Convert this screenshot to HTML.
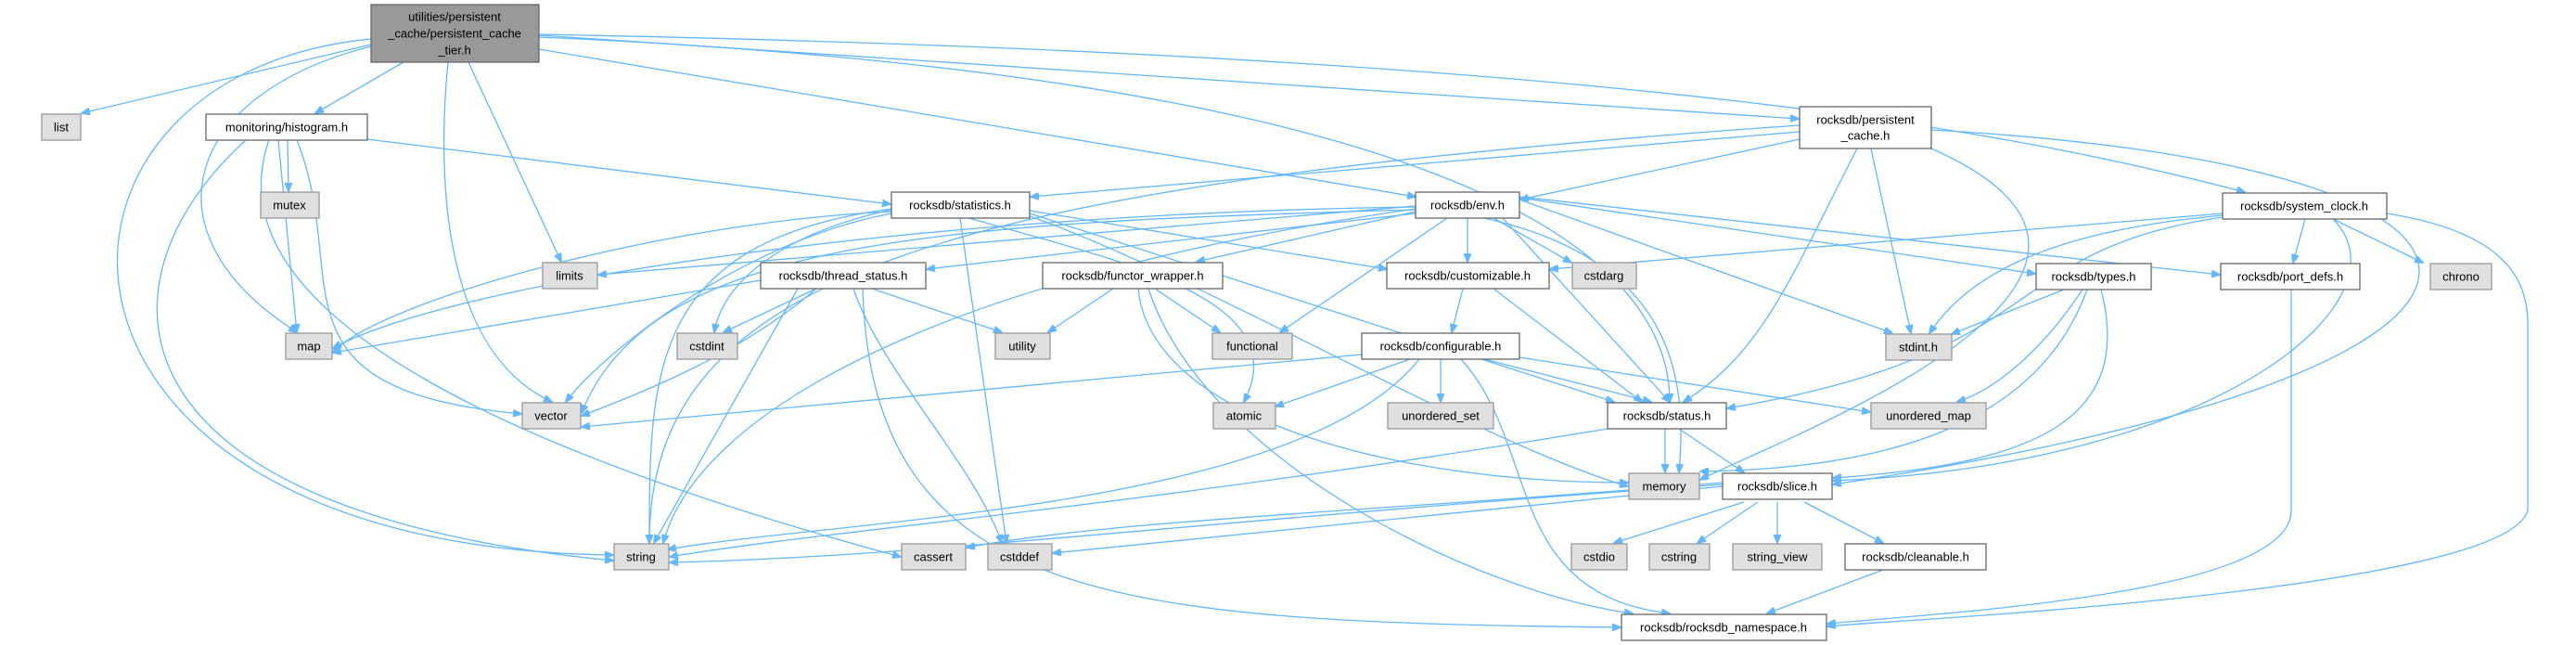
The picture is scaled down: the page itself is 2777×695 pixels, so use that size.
<!DOCTYPE html>
<html><head><meta charset="utf-8"><style>
html,body{margin:0;padding:0;background:#fff;}
svg{display:block;}
text{font-family:"Liberation Sans",sans-serif;font-size:13px;fill:#000;text-anchor:middle;dominant-baseline:central;}
.e{fill:none;stroke:#63b8ff;stroke-width:1.3;marker-end:url(#a);}
.n{fill:#fff;stroke:#666;stroke-width:1.3;}
.s{fill:#e0e0e0;stroke:#999;stroke-width:1.3;}
.m{fill:#999;stroke:#666;stroke-width:1.3;}
</style></head><body>
<svg width="2777" height="695" viewBox="0 0 2777 695" xmlns="http://www.w3.org/2000/svg">
<defs><marker id="a" markerWidth="10" markerHeight="8" refX="9" refY="4" orient="auto" markerUnits="userSpaceOnUse"><path d="M0,0 L10,4 L0,8 z" fill="#63b8ff" stroke="#63b8ff"/></marker></defs>
<g>
<!-- main -->
<path class="e" d="M400,48 L88,122"/>
<path class="e" d="M435,67 L340,122"/>
<path class="e" d="M400,50 C200,100 150,250 320,358"/>
<path class="e" d="M400,42 C0,80 0,590 661,598"/>
<path class="e" d="M483,67 C470,200 480,380 595,433"/>
<path class="e" d="M505,67 L605,282"/>
<path class="e" d="M581,53 L1526,212"/>
<path class="e" d="M581,38 L1939,128"/>
<path class="e" d="M581,40 C1500,80 1800,250 1800,433"/>
<path class="e" d="M581,37 C1800,60 2200,150 2420,207"/>
<!-- histogram -->
<path class="e" d="M310,151 L311,206"/>
<path class="e" d="M300,151 L320,358"/>
<path class="e" d="M265,151 C100,300 100,550 661,604"/>
<path class="e" d="M320,151 C380,300 280,420 562,446"/>
<path class="e" d="M290,151 C220,350 600,500 971,600"/>
<path class="e" d="M396,150 L960,220"/>
<!-- statistics -->
<path class="e" d="M1045,235 C1200,280 1400,320 1341,433"/>
<path class="e" d="M1035,235 L1085,585"/>
<path class="e" d="M961,226 C850,250 780,300 770,358"/>
<path class="e" d="M961,228 C700,240 400,330 359,380"/>
<path class="e" d="M1110,233 C1300,300 1600,480 1755,524"/>
<path class="e" d="M961,225 C700,260 700,400 700,585"/>
<path class="e" d="M961,230 C800,260 650,380 610,433"/>
<path class="e" d="M1110,227 L1495,290"/>
<path class="e" d="M1110,230 L1740,433"/>
<!-- env -->
<path class="e" d="M1610,235 L1694,283"/>
<path class="e" d="M1582,235 L1582,282"/>
<path class="e" d="M1560,235 L1380,358"/>
<path class="e" d="M1526,228 L1290,282"/>
<path class="e" d="M1526,230 L999,290"/>
<path class="e" d="M1526,222 L645,296"/>
<path class="e" d="M1526,223 C1000,230 500,300 359,375"/>
<path class="e" d="M1600,235 C1800,280 1820,400 1810,509"/>
<path class="e" d="M1526,225 C1000,300 750,450 715,585"/>
<path class="e" d="M1526,226 C1000,240 700,260 627,445"/>
<path class="e" d="M1638,215 L2040,359"/>
<path class="e" d="M1620,235 L1800,433"/>
<path class="e" d="M1638,213 L2194,295"/>
<path class="e" d="M1638,212 L2393,296"/>
<!-- thread_status -->
<path class="e" d="M820,302 L359,380"/>
<path class="e" d="M880,311 L780,358"/>
<path class="e" d="M940,311 L1080,358"/>
<path class="e" d="M880,311 C800,380 700,420 627,448"/>
<path class="e" d="M860,311 L705,585"/>
<path class="e" d="M920,311 C950,400 1050,500 1080,585"/>
<path class="e" d="M930,311 C940,650 1200,670 1747,676"/>
<!-- functor -->
<path class="e" d="M1200,311 L1130,358"/>
<path class="e" d="M1245,311 L1315,358"/>
<path class="e" d="M1227,311 C1240,450 1500,520 1755,520"/>
<path class="e" d="M1238,311 C1300,500 1600,640 1760,661"/>
<!-- customizable -->
<path class="e" d="M1577,311 L1565,358"/>
<path class="e" d="M1610,311 L1770,433"/>
<!-- configurable -->
<path class="e" d="M1468,382 L627,460"/>
<path class="e" d="M1520,387 L1375,438"/>
<path class="e" d="M1553,387 L1553,433"/>
<path class="e" d="M1530,387 C1400,550 900,560 720,592"/>
<path class="e" d="M1575,387 C1660,480 1620,640 1800,661"/>
<path class="e" d="M1600,387 L1780,433"/>
<path class="e" d="M1638,385 L2016,444"/>
<!-- status -->
<path class="e" d="M1795,462 L1795,509"/>
<path class="e" d="M1733,462 C1200,550 900,570 722,600"/>
<path class="e" d="M1810,462 L1880,509"/>
<!-- slice -->
<path class="e" d="M1857,520 C1500,550 1200,560 1042,590"/>
<path class="e" d="M1857,524 L1135,596"/>
<path class="e" d="M1880,541 L1740,585"/>
<path class="e" d="M1895,541 L1830,585"/>
<path class="e" d="M1916,541 L1916,585"/>
<path class="e" d="M1945,541 L2030,585"/>
<path class="e" d="M1857,522 C1300,560 1000,600 722,606"/>
<path class="e" d="M2030,614 L1905,661"/>
<!-- persistent_cache -->
<path class="e" d="M1940,142 L1111,212"/>
<path class="e" d="M1940,150 L1639,215"/>
<path class="e" d="M2017,160 L2060,359"/>
<path class="e" d="M2002,160 C1930,300 1900,380 1815,433"/>
<path class="e" d="M2082,160 C2400,300 1900,480 1833,517"/>
<path class="e" d="M1940,135 C1000,200 700,300 700,585"/>
<path class="e" d="M2082,140 C2800,180 2800,400 1976,522"/>
<!-- system_clock -->
<path class="e" d="M2515,236 L2612,283"/>
<path class="e" d="M2485,236 L2472,283"/>
<path class="e" d="M2396,232 C2200,250 2120,300 2080,359"/>
<path class="e" d="M2396,230 L1671,290"/>
<path class="e" d="M2396,234 C2150,270 2220,380 1862,440"/>
<path class="e" d="M2515,236 C2600,320 2400,500 1976,518"/>
<path class="e" d="M2573,230 C2700,250 2725,300 2725,350 L2725,550 C2700,640 2000,670 1970,675"/>
<!-- types -->
<path class="e" d="M2225,312 L2104,360"/>
<path class="e" d="M2245,312 C2200,380 2150,420 2110,433"/>
<path class="e" d="M2250,312 C2200,450 2050,505 1833,508"/>
<path class="e" d="M2265,312 C2300,450 2200,500 1976,515"/>
<path class="e" d="M2470,312 L2470,550 C2470,640 2100,660 1970,672"/>
</g>
<g>
<rect class="m" x="400" y="5" width="181" height="62"/>
<text x="490" y="18">utilities/persistent</text><text x="490" y="36">_cache/persistent_cache</text><text x="490" y="54">_tier.h</text>
<rect class="s" x="45" y="123" width="42" height="28"/><text x="66" y="137">list</text>
<rect class="n" x="222" y="123" width="174" height="28"/><text x="309" y="137">monitoring/histogram.h</text>
<rect class="s" x="281" y="207" width="63" height="28"/><text x="312" y="221">mutex</text>
<rect class="s" x="585" y="283" width="59" height="28"/><text x="614" y="297">limits</text>
<rect class="n" x="820" y="283" width="178" height="28"/><text x="909" y="297">rocksdb/thread_status.h</text>
<rect class="s" x="308" y="359" width="50" height="28"/><text x="333" y="373">map</text>
<rect class="s" x="730" y="359" width="65" height="28"/><text x="762" y="373">cstdint</text>
<rect class="s" x="563" y="434" width="63" height="28"/><text x="594" y="448">vector</text>
<rect class="s" x="662" y="586" width="59" height="28"/><text x="691" y="600">string</text>
<rect class="n" x="961" y="207" width="149" height="28"/><text x="1035" y="221">rocksdb/statistics.h</text>
<rect class="n" x="1526" y="207" width="112" height="28"/><text x="1582" y="221">rocksdb/env.h</text>
<rect class="n" x="1124" y="283" width="194" height="28"/><text x="1221" y="297">rocksdb/functor_wrapper.h</text>
<rect class="n" x="1495" y="283" width="175" height="28"/><text x="1582" y="297">rocksdb/customizable.h</text>
<rect class="s" x="1695" y="283" width="69" height="28"/><text x="1729" y="297">cstdarg</text>
<rect class="s" x="1073" y="359" width="59" height="28"/><text x="1102" y="373">utility</text>
<rect class="s" x="1307" y="359" width="86" height="28"/><text x="1350" y="373">functional</text>
<rect class="n" x="1468" y="359" width="170" height="28"/><text x="1553" y="373">rocksdb/configurable.h</text>
<rect class="s" x="1308" y="434" width="67" height="28"/><text x="1341" y="448">atomic</text>
<rect class="s" x="1496" y="434" width="114" height="28"/><text x="1553" y="448">unordered_set</text>
<rect class="n" x="1733" y="434" width="128" height="28"/><text x="1797" y="448">rocksdb/status.h</text>
<rect class="s" x="1756" y="510" width="76" height="28"/><text x="1794" y="524">memory</text>
<rect class="n" x="1857" y="510" width="118" height="28"/><text x="1916" y="524">rocksdb/slice.h</text>
<rect class="s" x="972" y="586" width="69" height="28"/><text x="1006" y="600">cassert</text>
<rect class="s" x="1065" y="586" width="69" height="28"/><text x="1099" y="600">cstddef</text>
<rect class="s" x="1694" y="586" width="60" height="28"/><text x="1724" y="600">cstdio</text>
<rect class="s" x="1778" y="586" width="65" height="28"/><text x="1810" y="600">cstring</text>
<rect class="s" x="1868" y="586" width="96" height="28"/><text x="1916" y="600">string_view</text>
<rect class="n" x="1989" y="586" width="152" height="28"/><text x="2065" y="600">rocksdb/cleanable.h</text>
<rect class="n" x="1748" y="662" width="221" height="28"/><text x="1858" y="676">rocksdb/rocksdb_namespace.h</text>
<rect class="n" x="1940" y="115" width="142" height="45"/><text x="2011" y="129">rocksdb/persistent</text><text x="2011" y="146">_cache.h</text>
<rect class="n" x="2396" y="208" width="177" height="28"/><text x="2484" y="222">rocksdb/system_clock.h</text>
<rect class="n" x="2195" y="284" width="124" height="28"/><text x="2257" y="298">rocksdb/types.h</text>
<rect class="n" x="2394" y="284" width="150" height="28"/><text x="2469" y="298">rocksdb/port_defs.h</text>
<rect class="s" x="2620" y="284" width="66" height="28"/><text x="2653" y="298">chrono</text>
<rect class="s" x="2033" y="360" width="71" height="28"/><text x="2068" y="374">stdint.h</text>
<rect class="s" x="2017" y="434" width="124" height="28"/><text x="2079" y="448">unordered_map</text>
</g>
</svg>
</body></html>
